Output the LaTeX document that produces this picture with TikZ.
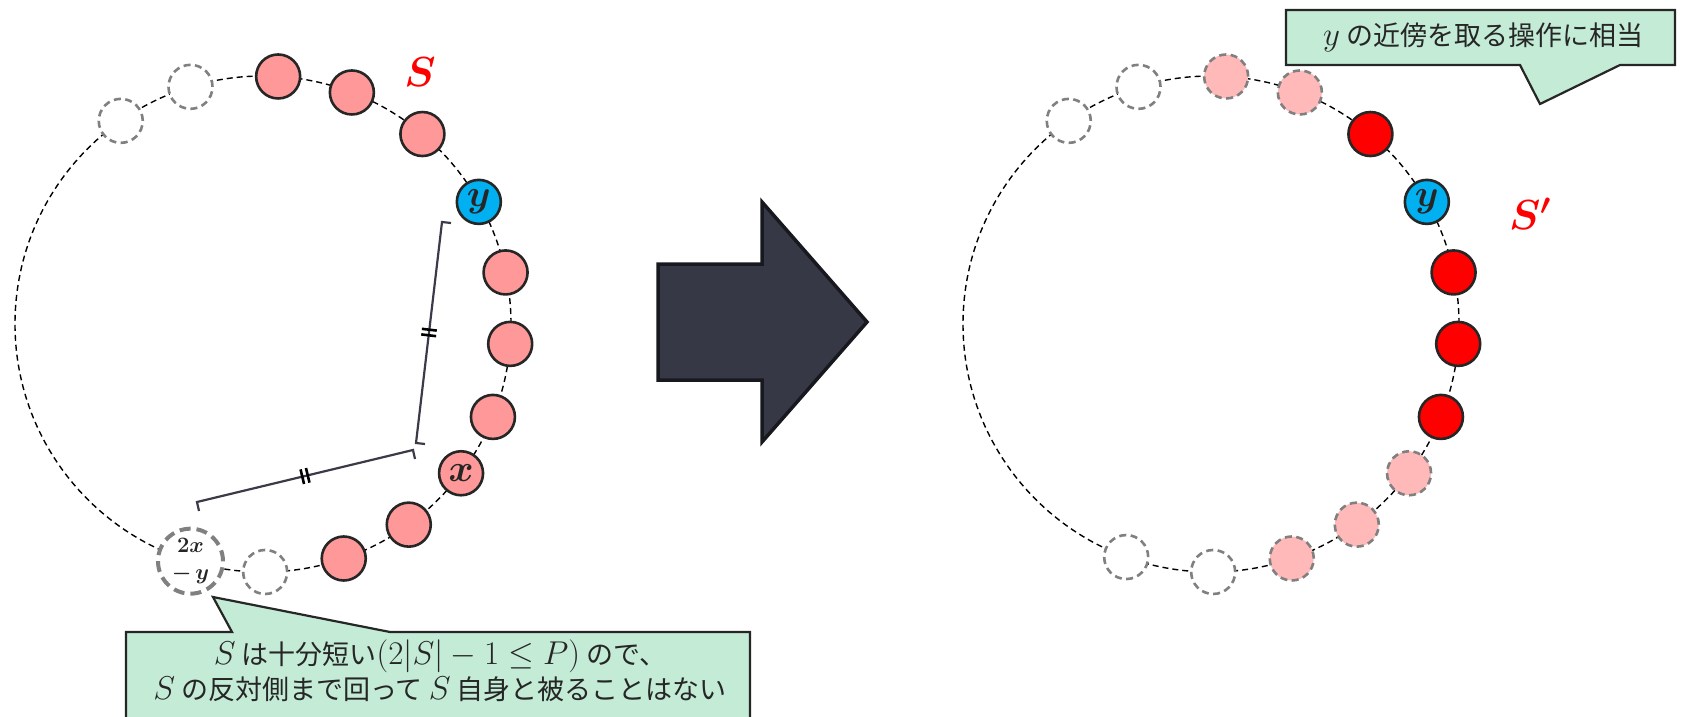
\RequirePackage{fix-cm}
\documentclass[tikz,border=0pt]{standalone}
\usepackage{amsmath,bm}
\usepackage{fontspec}
\newfontfamily\jp{Noto Sans CJK JP}
\newcommand\calmath[1]{{\fontsize{33}{35}\selectfont$#1$}}
\usetikzlibrary{calc,decorations.markings}
\definecolor{pinkA}{HTML}{FF9999}
\definecolor{pinkB}{HTML}{FFB9B9}
\definecolor{redA}{HTML}{FF0000}
\definecolor{blueA}{HTML}{00B0F0}
\definecolor{edge}{HTML}{262626}
\definecolor{grayE}{HTML}{808080}
\definecolor{mint}{HTML}{C3EBD6}
\definecolor{arrowF}{HTML}{363845}
\definecolor{arrowE}{HTML}{18181F}
\definecolor{brk}{HTML}{3A3A48}
\begin{document}
\begin{tikzpicture}[x=1pt,y=-1pt,
  ring/.style={draw=black, line width=1.4pt, dash pattern=on 6pt off 4pt},
  elem/.style={circle, minimum size=44pt, inner sep=0pt, line width=2.6pt, text=edge},
  solidel/.style={elem, draw=edge},
  pinknode/.style={solidel, fill=pinkA},
  rednode/.style={solidel, fill=redA},
  bluenode/.style={solidel, fill=blueA},
  ghost/.style={elem, draw=grayE, fill=white, dash pattern=on 7pt off 4.5pt},
  lightnode/.style={ghost, fill=pinkB},
  bigghost/.style={circle, minimum size=65pt, inner sep=0pt, line width=4pt, draw=grayE, fill=white, dash pattern=on 11pt off 6pt, text=edge},
  lbl/.style={font=\fontsize{38}{38}\selectfont},
  setlbl/.style={text=redA, font=\fontsize{42}{42}\selectfont},
  callout/.style={draw=edge, fill=mint, line width=2.2pt, line join=miter},
  jptext/.style={text=edge, font=\jp\fontsize{27}{35}\selectfont, align=center},
  bracket/.style={draw=brk, line width=2.2pt},
  eqmark/.style={postaction={decorate, decoration={markings, mark=at position 0.5 with {\draw[line width=2.6pt, draw=black] (-2.8pt,-7.5pt) -- (-2.8pt,7.5pt) (2.8pt,-7.5pt) -- (2.8pt,7.5pt);}}}},
  bigarrow/.style={fill=arrowF, draw=arrowE, line width=3.5pt, line join=miter}
]
\useasboundingbox (0,0) rectangle (1681,717);

% ---------- left ring ----------
\coordinate (cL) at (263,324);
\draw[ring] (cL) circle[radius=248pt];
\node[ghost] (lg1) at ($(cL)+(125:248pt)$) {};
\node[ghost] (lg2) at ($(cL)+(107:248pt)$) {};
\node[pinknode] (lp1) at ($(cL)+(86.5:248pt)$) {};
\node[pinknode] (lp2) at ($(cL)+(69:248pt)$) {};
\node[pinknode] (lp3) at ($(cL)+(50:248pt)$) {};
\node[bluenode, lbl] (ly) at ($(cL)+(29.5:248pt)$) {$\bm{y}$};
\node[pinknode] (lp4) at ($(cL)+(12:248pt)$) {};
\node[pinknode] (lp5) at ($(cL)+(-4.6:248pt)$) {};
\node[pinknode] (lp6) at ($(cL)+(-22:248pt)$) {};
\node[pinknode, lbl] (lx) at ($(cL)+(-37:248pt)$) {$\bm{x}$};
\node[pinknode] (lp7) at ($(cL)+(-54:248pt)$) {};
\node[pinknode] (lp8) at ($(cL)+(-71:248pt)$) {};
\node[ghost] (lg3) at ($(cL)+(-89.5:248pt)$) {};
\node[bigghost, align=center, font=\fontsize{22}{27}\selectfont] (lz) at ($(cL)+(-107:248pt)$) {$\bm{2x}$\\$\bm{-\,y}$};
\node[setlbl] (lS) at (420,72) {$\bm{S}$};

% brackets
\coordinate (bA) at (442,222);
\coordinate (bB) at (416,443);
\coordinate (bC) at (413,450);
\coordinate (bD) at (197,502);
\draw[bracket] ($(bA)+(9,1)$) -- (bA) -- (bB) -- ($(bB)+(9,1)$);
\path[eqmark] (bA) -- (bB);
\draw[bracket] ($(bC)+(2,9)$) -- (bC) -- (bD) -- ($(bD)+(2,9)$);
\path[eqmark] (bC) -- (bD);

% bottom callout
\coordinate (tipL) at (213,597);
\draw[callout] (126,632) -- (232,632) -- (tipL) -- (390,632) -- (750,632) -- (750,722) -- (126,722) -- cycle;
\node[jptext] (noteL) at (440,671) {\calmath{S} は十分短い\calmath{(2|S|-1\le P)} ので、\\\calmath{S} の反対側まで回って \calmath{S} 自身と被ることはない};

% ---------- big arrow ----------
\draw[bigarrow] (658,264) -- (762,264) -- (762,202) -- (867,322) -- (762,442) -- (762,380) -- (658,380) -- cycle;

% ---------- right ring ----------
\coordinate (cR) at (1211,324);
\draw[ring] (cR) circle[radius=248pt];
\node[ghost] (rg1) at ($(cR)+(125:248pt)$) {};
\node[ghost] (rg2) at ($(cR)+(107:248pt)$) {};
\node[lightnode] (rl1) at ($(cR)+(86.5:248pt)$) {};
\node[lightnode] (rl2) at ($(cR)+(69:248pt)$) {};
\node[rednode] (rr1) at ($(cR)+(50:248pt)$) {};
\node[bluenode, lbl] (ry) at ($(cR)+(29.5:248pt)$) {$\bm{y}$};
\node[rednode] (rr2) at ($(cR)+(12:248pt)$) {};
\node[rednode] (rr3) at ($(cR)+(-4.6:248pt)$) {};
\node[rednode] (rr4) at ($(cR)+(-22:248pt)$) {};
\node[lightnode] (rl3) at ($(cR)+(-37:248pt)$) {};
\node[lightnode] (rl4) at ($(cR)+(-54:248pt)$) {};
\node[lightnode] (rl5) at ($(cR)+(-71:248pt)$) {};
\node[ghost] (rg3) at ($(cR)+(-89.5:248pt)$) {};
\node[ghost] (rg4) at ($(cR)+(-110:248pt)$) {};
\node[setlbl] (rS) at (1530,214) {$\bm{S'}$};

% top callout
\coordinate (tipR) at (1540,104);
\draw[callout] (1286,10) -- (1675,10) -- (1675,65) -- (1620,65) -- (tipR) -- (1520,65) -- (1286,65) -- cycle;
\node[jptext] (noteR) at (1483,37) {\calmath{y} の近傍を取る操作に相当};
\end{tikzpicture}
\end{document}
